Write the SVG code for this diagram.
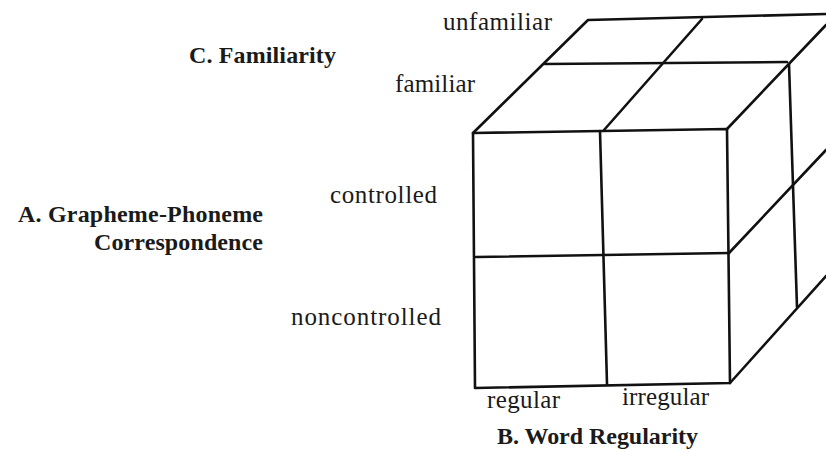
<svg xmlns="http://www.w3.org/2000/svg" width="826" height="450" viewBox="0 0 826 450">
<style>
.ln{fill:none;stroke:#111;stroke-width:2.6;stroke-linecap:round;stroke-linejoin:round}
text{fill:#1a1a1a}
.r{font-size:25px}
.b{font-size:24px;font-weight:bold}
</style>
<rect width="826" height="450" fill="#fff"/>
<g id="cube">
<g id="front-face">
<path class="ln" d="M473,133 L727,129 L730,383 L475,388 Z"/>
<path class="ln" d="M600,131 L607,384"/>
<path class="ln" d="M476,257 L729,253"/>
</g>
<g id="top-face">
<path class="ln" d="M473,133 L588,20 L826,14"/>
<path class="ln" d="M727,129 L826,25"/>
<path class="ln" d="M545,64 L787,62"/>
<path class="ln" d="M604,130 L702,19"/>
</g>
<g id="right-face">
<path class="ln" d="M789,64 L797,307"/>
<path class="ln" d="M729,253 L826,150"/>
<path class="ln" d="M730,383 L826,276"/>
</g>
</g>
<g font-family="Liberation Serif, DejaVu Serif, serif">
<g id="label-C">
<text class="b" x="189" y="63" textLength="147" lengthAdjust="spacing">C. Familiarity</text>
<text class="r" x="443" y="30" textLength="109" lengthAdjust="spacing">unfamiliar</text>
<text class="r" x="395" y="92" textLength="80" lengthAdjust="spacing">familiar</text>
</g>
<g id="label-A">
<text class="b" x="18" y="222" textLength="245" lengthAdjust="spacing">A. Grapheme-Phoneme</text>
<text class="b" x="94" y="250" textLength="169" lengthAdjust="spacing">Correspondence</text>
<text class="r" x="330" y="203" textLength="107" lengthAdjust="spacing">controlled</text>
<text class="r" x="291" y="325" textLength="150" lengthAdjust="spacing">noncontrolled</text>
</g>
<g id="label-B">
<text class="r" x="487" y="408" textLength="73" lengthAdjust="spacing">regular</text>
<text class="r" x="622" y="405" textLength="87" lengthAdjust="spacing">irregular</text>
<text class="b" x="497" y="444" textLength="201" lengthAdjust="spacing">B. Word Regularity</text>
</g>
</g>
</svg>
